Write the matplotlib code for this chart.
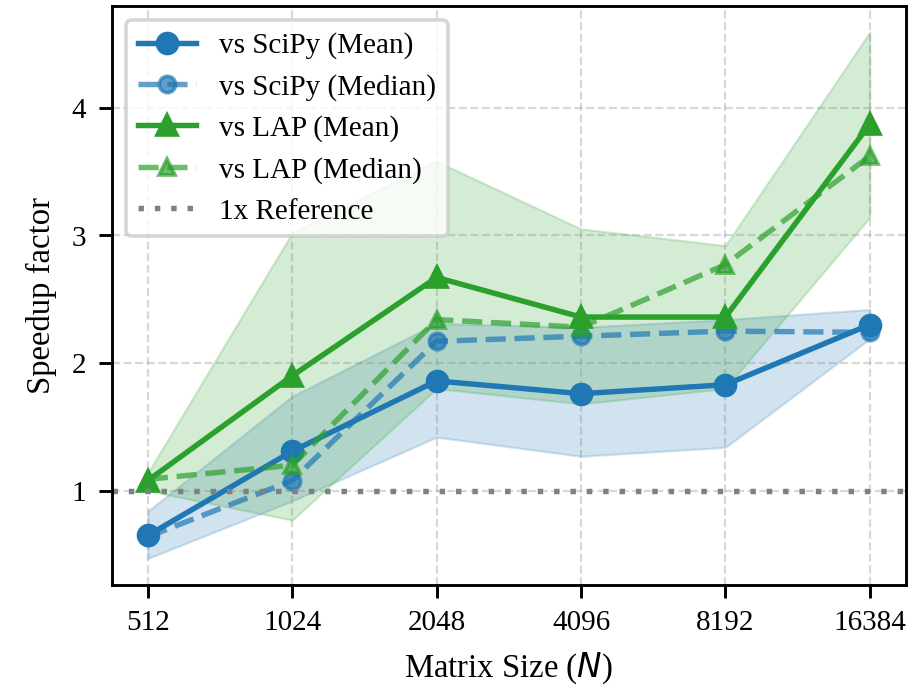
import matplotlib
matplotlib.use("Agg")
import matplotlib.pyplot as plt
import numpy as np

plt.rcParams['font.family'] = ['Liberation Serif', 'DejaVu Serif']
plt.rcParams['mathtext.fontset'] = 'dejavusans'

# Matrix sizes
sizes = [512, 1024, 2048, 4096, 8192, 16384]

# speedup vs SciPy
scipy_mean = [0.65, 1.31, 1.86, 1.76, 1.83, 2.30]
scipy_median = [0.64, 1.08, 2.17, 2.21, 2.25, 2.24]
scipy_low = [0.47, 0.92, 1.42, 1.27, 1.34, 2.19]
scipy_high = [0.84, 1.74, 2.31, 2.28, 2.34, 2.42]

# speedup vs LAP
lap_mean = [1.08, 1.90, 2.67, 2.36, 2.36, 3.87]
lap_median = [1.09, 1.20, 2.34, 2.28, 2.77, 3.62]
lap_low = [1.00, 0.77, 1.80, 1.68, 1.80, 3.14]
lap_high = [1.14, 3.02, 3.58, 3.05, 2.92, 4.59]

blue = '#1f77b4'
green = '#2ca02c'

x = np.arange(len(sizes))

fig, ax = plt.subplots(figsize=(3.5, 2.63), dpi=261.7)
fig.subplots_adjust(left=0.122, right=0.989, top=0.991, bottom=0.150)

ax.fill_between(x, scipy_low, scipy_high, color=blue, alpha=0.2, lw=0.6)
ax.fill_between(x, lap_low, lap_high, color=green, alpha=0.2, lw=0.6)

ax.plot(x, scipy_mean, '-o', color=blue, lw=1.5, ms=5.5, label='vs SciPy (Mean)')
ax.plot(x, scipy_median, '--o', color=blue, alpha=0.7, lw=1.5, ms=4.5, label='vs SciPy (Median)')
ax.plot(x, lap_mean, '-^', color=green, lw=1.5, ms=5.5, label='vs LAP (Mean)')
ax.plot(x, lap_median, '--^', color=green, alpha=0.7, lw=1.5, ms=4.5, label='vs LAP (Median)')
ax.axhline(1, color='gray', ls=(0, (1, 2.0)), lw=1.5, label='1x Reference')

ax.set_xticks(x)
ax.set_xticklabels([str(s) for s in sizes])
ax.set_yticks([1, 2, 3, 4])
ax.tick_params(labelsize=8)
ax.grid(True, ls='--', color='gray', alpha=0.3, lw=0.6)

ax.set_xlabel('Matrix Size ($N$)', fontsize=9)
ax.set_ylabel('Speedup factor', fontsize=9)
ax.legend(loc='upper left', fontsize=8, framealpha=0.8)

plt.savefig('out.png', dpi=261.7)
